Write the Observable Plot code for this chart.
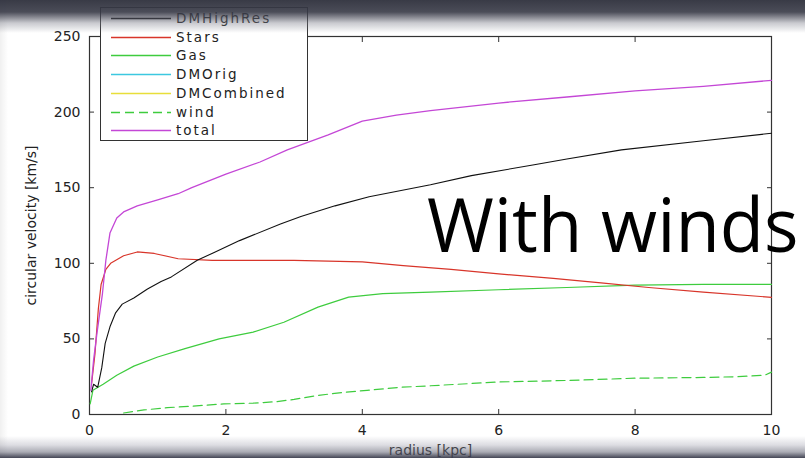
<!DOCTYPE html>
<html>
<head>
<meta charset="utf-8">
<script src="https://cdn.jsdelivr.net/npm/d3@7"></script>
<script src="https://cdn.jsdelivr.net/npm/@observablehq/plot@0.6"></script>
<style>
  html, body { margin: 0; padding: 0; background: #fff; }
  #wrap { position: relative; width: 805px; height: 458px; overflow: hidden; }
  #legend { position: absolute; left: 100px; top: 7px; width: 208px; height: 134px;
    background: #fff; border: 1px solid #333; box-sizing: border-box; }
  #legend .row { position: absolute; left: 0; height: 18px; width: 100%; }
  #legend .row span { position: absolute; left: 75px; top: 0; font-family: "DejaVu Sans", sans-serif;
    font-size: 13.5px; letter-spacing: 2px; color: #222; line-height: 18px; white-space: nowrap; }
  #legend .row svg { position: absolute; left: 9px; top: 0; }
  #note { position: absolute; left: 427px; top: 186px; font-family: "Open Sans", sans-serif;
    font-size: 75px; color: #000; white-space: nowrap; line-height: 1;
    transform: scaleX(0.965); transform-origin: left top; }
  #shade { position: absolute; left: 0; top: 0; width: 805px; height: 458px; pointer-events: none;
    background:
      linear-gradient(to bottom, rgba(50,52,64,0.97) 0px, rgba(55,57,70,0.9) 12px, rgba(120,122,135,0.4) 23px, rgba(255,255,255,0) 33px, rgba(255,255,255,0) 436px, rgba(140,140,158,0.3) 445px, rgba(100,102,118,0.55) 452px, rgba(58,60,76,0.95) 458px),
      linear-gradient(to right, rgba(0,0,0,0.06) 0px, rgba(0,0,0,0) 8px); }
</style>
</head>
<body>
<div id="wrap"></div>
<script>
// ---- data ----
const seriesNames = ["DMHighRes", "Stars", "Gas", "DMOrig", "DMCombined", "wind", "total"];
const seriesColors = ["#111111", "#d8352a", "#3ecc3e", "#3cc8e0", "#e8de3a", "#3ecc3e", "#c447d6"];

const dmR = [0.03, 0.06, 0.12, 0.18, 0.23, 0.3, 0.38, 0.48, 0.65, 0.85, 1.05, 1.2, 1.58, 1.82, 2.2, 2.8, 3.1, 3.6, 4.1, 5.0, 5.6, 6.5, 7.0, 7.8, 9.0, 10.0];
const dmV = [15, 20, 18, 31, 47, 58, 67, 73, 77, 83, 88, 91, 102, 107, 115, 126, 131, 138, 144, 152, 158, 165, 169, 175, 181, 186];

const starsR = [0.03, 0.08, 0.13, 0.17, 0.24, 0.31, 0.5, 0.7, 0.95, 1.3, 1.8, 2.5, 3.0, 3.5, 4.0, 4.6, 5.3, 6.0, 6.8, 7.5, 8.2, 9.0, 10.0];
const starsV = [20, 40, 70, 86, 96, 100, 105, 107.5, 106.5, 103, 102, 102, 102, 101.5, 101, 98.5, 96, 93, 90, 87, 84, 81, 77.5];

const gasR = [0.01, 0.05, 0.2, 0.4, 0.65, 1.0, 1.4, 1.9, 2.4, 2.85, 3.35, 3.8, 4.3, 5.0, 6.0, 7.0, 8.0, 9.0, 10.0];
const gasV = [7, 16, 20, 26, 32, 38, 43.6, 50, 54.5, 61, 71, 77.6, 80, 81, 82.5, 84, 85.5, 86, 86];

const windR = [0.5, 0.8, 1.14, 1.5, 1.97, 2.4, 2.75, 3.0, 3.34, 3.7, 4.07, 4.56, 5.0, 6.0, 7.0, 8.0, 9.0, 9.5, 9.9, 10.0];
const windV = [1, 3, 4.5, 5.5, 7, 7.5, 8.5, 10, 12.6, 14.5, 16, 18, 19, 21.5, 22.5, 24, 24.5, 25, 26, 28];

const totalR = [0.02, 0.06, 0.11, 0.19, 0.24, 0.3, 0.4, 0.5, 0.7, 1.0, 1.3, 1.5, 2.0, 2.5, 2.9, 3.5, 4.0, 4.5, 5.0, 6.0, 7.0, 8.0, 9.0, 10.0];
const totalV = [16, 36, 54, 80, 102, 120, 130, 134, 138, 142, 146, 150, 159, 167, 175, 185, 194, 198, 201, 206, 210, 214, 217, 221];

const xTicks = [0, 2, 4, 6, 8, 10];
const yTicks = [0, 50, 100, 150, 200, 250];
const xLabel = "radius [kpc]";
const yLabel = "circular velocity [km/s]";
const noteText = "With winds";

// ---- build tables ----
const zipS = (R, V) => R.map((r, i) => ({r, v: V[i]}));
const dm = zipS(dmR, dmV), stars = zipS(starsR, starsV), gas = zipS(gasR, gasV),
      wind = zipS(windR, windV), total = zipS(totalR, totalV);

const font = "DejaVu Sans, sans-serif";
const chart = Plot.plot({
  width: 805, height: 458,
  marginLeft: 89, marginRight: 34, marginTop: 36, marginBottom: 44,
  style: {fontFamily: font, fontSize: "14px", color: "#222", background: "transparent", overflow: "visible"},
  x: {domain: [0, 10]},
  y: {domain: [0, 250]},
  marks: [
    Plot.frame({stroke: "#333", strokeWidth: 1.2}),
    Plot.axisX({ticks: xTicks, tickSize: -5, tickPadding: 16, label: xLabel, labelArrow: "none", labelAnchor: "center", labelOffset: 40, fontSize: 14, letterSpacing: 1.5, stroke: "#333"}),
    Plot.axisX({anchor: "top", ticks: xTicks, tickSize: -5, tickFormat: () => "", label: null, stroke: "#333"}),
    Plot.axisY({ticks: yTicks, tickSize: -5, tickPadding: 14, label: yLabel, labelArrow: "none", labelAnchor: "center", labelOffset: 63, fontSize: 14, letterSpacing: 1.5, stroke: "#333"}),
    Plot.axisY({anchor: "right", ticks: yTicks, tickSize: -5, tickFormat: () => "", label: null, stroke: "#333"}),
    Plot.line(gas, {x: "r", y: "v", stroke: seriesColors[2], strokeWidth: 1.2}),
    Plot.line(wind, {x: "r", y: "v", stroke: seriesColors[5], strokeWidth: 1.2, strokeDasharray: "9,5"}),
    Plot.line(stars, {x: "r", y: "v", stroke: seriesColors[1], strokeWidth: 1.2}),
    Plot.line(dm, {x: "r", y: "v", stroke: seriesColors[0], strokeWidth: 1.1}),
    Plot.line(total, {x: "r", y: "v", stroke: seriesColors[6], strokeWidth: 1.3})
  ]
});
const wrap = document.getElementById("wrap");
wrap.appendChild(chart);

// legend
const leg = document.createElement("div");
leg.id = "legend";
seriesNames.forEach((name, i) => {
  const row = document.createElement("div");
  row.className = "row";
  row.style.top = (1 + i * 18.7) + "px";
  const dash = name === "wind" ? 'stroke-dasharray="9,5"' : "";
  row.innerHTML = `<svg width="62" height="18"><line x1="1" y1="9.5" x2="61" y2="9.5" stroke="${seriesColors[i]}" stroke-width="1.5" ${dash}/></svg><span>${name}</span>`;
  leg.appendChild(row);
});
wrap.appendChild(leg);

const note = document.createElement("div");
note.id = "note";
note.textContent = noteText;
wrap.appendChild(note);

const shade = document.createElement("div");
shade.id = "shade";
wrap.appendChild(shade);
</script>
</body>
</html>
